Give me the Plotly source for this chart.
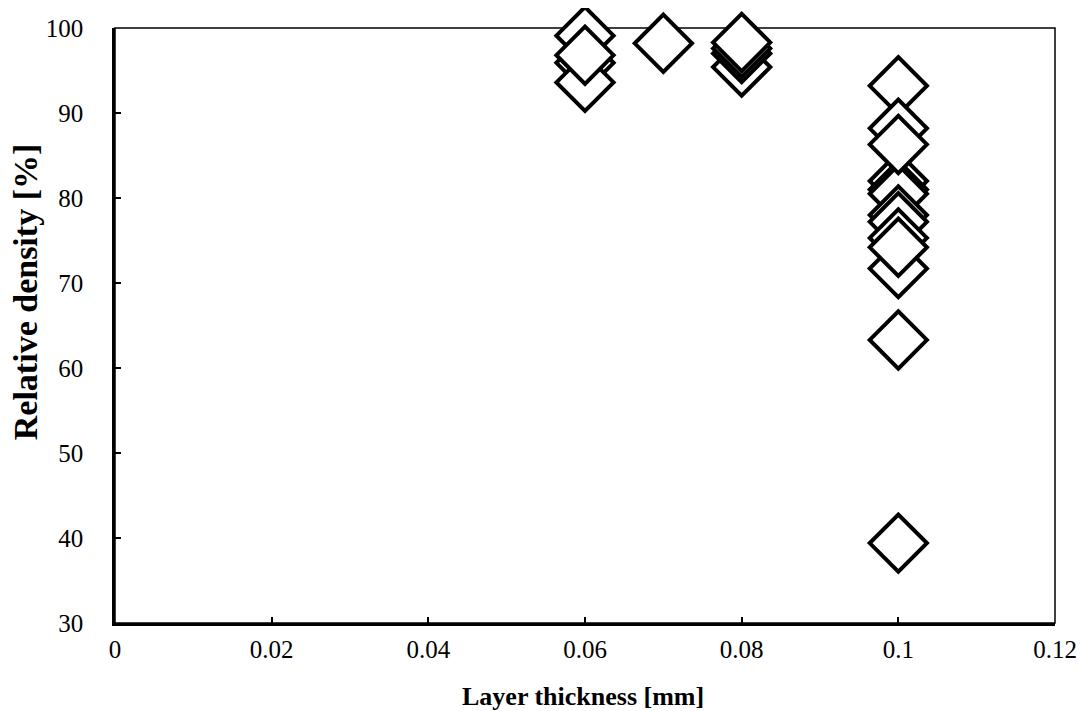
import plotly.graph_objects as go

# Data (layer thickness [mm], relative density [%]); later points drawn on top
x_006 = [0.06, 0.06, 0.06, 0.06]
y_006 = [99.1, 95.9, 93.6, 96.8]
x_007 = [0.07]
y_007 = [98.2]
x_008 = [0.08, 0.08, 0.08, 0.08]
y_008 = [95.4, 97.0, 97.6, 98.3]
x_010 = [0.1] * 13
y_010 = [93.2, 88.2, 82.0, 81.0, 80.5, 78.0, 77.2, 75.3, 71.7, 86.3, 74.2, 63.3, 39.4]

x_all = x_006 + x_007 + x_008 + x_010
y_all = y_006 + y_007 + y_008 + y_010

x_ticks = [0, 0.02, 0.04, 0.06, 0.08, 0.1, 0.12]
x_tick_text = ["0", "0.02", "0.04", "0.06", "0.08", "0.1", "0.12"]
y_ticks = [30, 40, 50, 60, 70, 80, 90, 100]

x_title = "Layer thickness [mm]"
y_title = "Relative density [%]"

font_family = "Liberation Serif, Times New Roman, serif"

fig = go.Figure()
fig.add_trace(go.Scatter(
    x=x_all, y=y_all, mode="markers",
    marker=dict(symbol="diamond", size=44, color="white",
                line=dict(color="black", width=4)),
    cliponaxis=False, showlegend=False,
))

fig.update_layout(
    width=1085, height=711,
    margin=dict(l=107, r=38, t=20, b=96),
    paper_bgcolor="white", plot_bgcolor="white",
    font=dict(family=font_family, size=25, color="black"),
    xaxis=dict(
        range=[0, 0.12], tickvals=x_ticks, ticktext=x_tick_text,
        showgrid=False, zeroline=False, automargin=False,
        showline=True, linecolor="black", linewidth=2.5,
        ticks="inside", ticklen=6, tickwidth=1.5, tickcolor="black",
        tickfont=dict(family=font_family, size=25),
        ticklabelstandoff=2,
    ),
    yaxis=dict(
        range=[30, 100], tickvals=y_ticks,
        showgrid=False, zeroline=False, automargin=False,
        showline=True, linecolor="black", linewidth=2.5,
        ticks="inside", ticklen=6, tickwidth=1.5, tickcolor="black",
        tickfont=dict(family=font_family, size=25),
        ticklabelstandoff=24,
    ),
    shapes=[dict(type="rect", xref="paper", yref="paper", x0=0, y0=0, x1=1, y1=1,
                 line=dict(color="black", width=1.5), layer="below")],
    annotations=[
        dict(text="<b>" + x_title + "</b>", xref="paper", yref="paper",
             x=0.498, y=-0.124, xanchor="center", yanchor="middle",
             showarrow=False, font=dict(family=font_family, size=26)),
        dict(text="<b>" + y_title + "</b>", xref="paper", yref="paper",
             x=-0.0957, y=0.556, xanchor="center", yanchor="middle",
             textangle=-90, showarrow=False,
             font=dict(family=font_family, size=34)),
    ],
)

fig.write_html("out.html")
